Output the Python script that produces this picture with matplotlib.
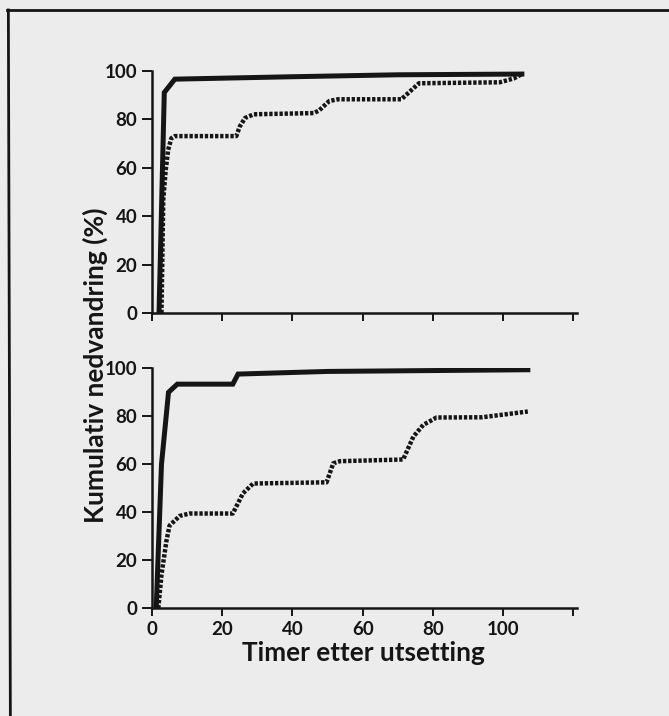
import matplotlib
matplotlib.use("Agg")
import matplotlib.pyplot as plt
from matplotlib.lines import Line2D

# top panel
top_solid_x = [2.0, 3.5, 6.5, 40, 70, 105.3]
top_solid_y = [0, 91, 96.5, 97.5, 98.3, 98.6]
top_dot_x = [2.7, 3.2, 3.9, 4.6, 5.5, 6.5, 24, 25, 26.5, 29, 46, 47.5, 50.5, 53, 71, 73.5, 76, 99, 103, 105.3]
top_dot_y = [0, 46.6, 59, 67.3, 72.1, 73, 73, 77, 80.5, 82, 82.5, 83.5, 87.5, 88.2, 88.2, 91.5, 94.8, 95.2, 96.8, 98.6]

# bottom panel
bot_solid_x = [1.2, 2.7, 4.7, 7.2, 23, 24.5, 50, 107.0]
bot_solid_y = [0, 60, 90, 93.4, 93.4, 97.6, 98.7, 99.4]
bot_dot_x = [1.8, 2.7, 4.1, 5.0, 7.9, 10.7, 23, 25.9, 28.8, 49.7, 51.6, 53.5, 71.5, 74.4, 77.2, 81, 94, 107.0]
bot_dot_y = [0, 14, 28, 34.5, 38.5, 39.5, 39.5, 47.9, 52, 52.5, 60.4, 61.3, 62, 71.5, 76.4, 79.5, 79.6, 82]

xticks = [0, 20, 40, 60, 80, 100, 120]
xtick_labels = ["0", "20", "40", "60", "80", "100", ""]
yticks = [0, 20, 40, 60, 80, 100]

paper = "#ececec"
ink = "#151515"

plt.rcParams['font.family'] = ['Lato', 'DejaVu Sans']
plt.rcParams['font.weight'] = 'bold'

fig = plt.figure(figsize=(6.69, 7.16), dpi=100, facecolor=paper)

ax1 = fig.add_axes([0.2272, 0.5628, 0.6353, 0.3385])
ax2 = fig.add_axes([0.2272, 0.1504, 0.6353, 0.3352])

panels = [
    (ax1, top_solid_x, top_solid_y, top_dot_x, top_dot_y),
    (ax2, bot_solid_x, bot_solid_y, bot_dot_x, bot_dot_y),
]

for ax, sx, sy, dx, dy in panels:
    ax.set_facecolor(paper)
    ax.plot(sx, sy, color=ink, lw=3.6, solid_joinstyle='miter', zorder=3)
    ax.plot(dx, dy, color=ink, lw=3.2, linestyle=(0, (0.75, 0.4)),
            dash_capstyle='butt', zorder=2)
    ax.set_xlim(0, 121)
    ax.set_ylim(0, 100)
    for side in ['top', 'right']:
        ax.spines[side].set_visible(False)
    for side in ['left', 'bottom']:
        ax.spines[side].set_linewidth(1.8)
        ax.spines[side].set_color(ink)
    ax.set_yticks(yticks)
    ax.set_xticks(xticks)
    ax.tick_params(axis='both', direction='out', width=1.4, color=ink,
                   labelsize=13.5, labelcolor=ink)
    ax.tick_params(axis='y', length=7.5, pad=3)
    ax.tick_params(axis='x', length=6, pad=3)

ax1.set_xticklabels([])
ax2.set_xticklabels(xtick_labels)

fig.text(0.5426, 1 - 661 / 716, "Timer etter utsetting", ha='center', va='baseline',
         fontsize=18.8, fontweight='bold', color=ink)
fig.text(95 / 669, 0.490, "Kumulativ nedvandring (%)", ha='center', va='center',
         rotation=90, fontsize=19, fontweight='bold', color=ink)

# frame from the printed page
fig.add_artist(Line2D([0.0105, 1.0], [1 - 10 / 716, 1 - 10 / 716],
                      transform=fig.transFigure, color=ink, lw=2))
fig.add_artist(Line2D([0.0125, 0.0155], [1 - 10 / 716, 0.0],
                      transform=fig.transFigure, color=ink, lw=2))

fig.savefig("out.png", dpi=100, facecolor=paper)
